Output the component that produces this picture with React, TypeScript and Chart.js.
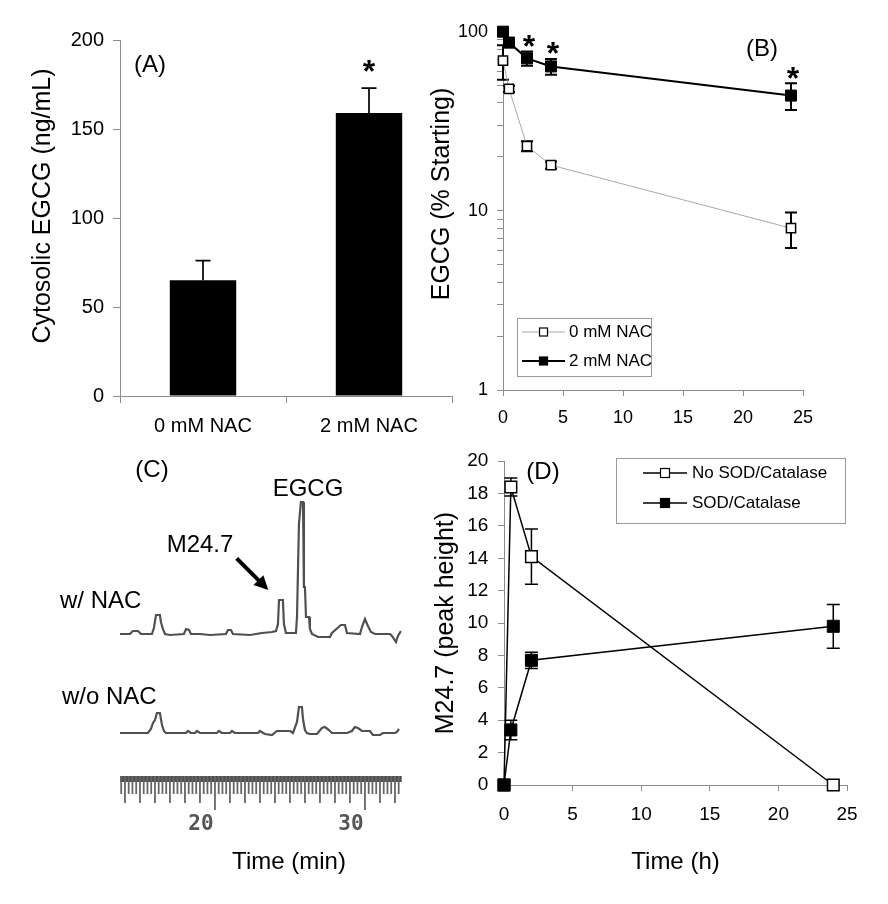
import React, { useEffect, useRef } from 'react';
import { Chart, registerables } from 'chart.js';

Chart.register(...registerables);

const FONT = "'Liberation Sans', Arial, sans-serif";
Chart.defaults.font.family = FONT;
const AXIS = '#8c8c8c';

// ---------- Panel A ----------
const aCategories = ['0 mM NAC', '2 mM NAC'];
const aValues = [65, 159];
const aErrors = [11, 14];
const aStarIndex = [1];
const aYTitle = 'Cytosolic EGCG (ng/mL)';

// ---------- Panel B ----------
const bTimes = [0, 0.5, 2, 4, 24];
const bNoNac = [69, 48, 23, 18, 8];
const bNoNacErr = [15, 2, 1.5, 0.8, 1.8];
const bNac = [100, 87, 71, 64, 44];
const bNacErr = [0, 5, 6.5, 6.5, 7.5];
const bYTicks = [1, 2, 3, 4, 5, 6, 7, 8, 9, 10, 20, 30, 40, 50, 60, 70, 80, 90, 100];
const bYLabels = [1, 10, 100];
const bStarIndex = [2, 3, 4];
const bYTitle = 'EGCG (% Starting)';

// ---------- Panel C (chromatogram traces, signal above baseline) ----------
const cWithTime = [13.67, 14.33, 14.53, 14.87, 15.07, 15.8, 15.93, 16.07, 16.33, 16.4, 16.53, 16.67, 17.0, 17.93, 18.07, 18.27, 18.4, 19.0, 19.67, 20.73, 20.87, 21.07, 21.2, 22.33, 23.13, 23.8, 24.07, 24.2, 24.27, 24.53, 24.6, 24.73, 25.4, 25.47, 25.6, 25.73, 25.87, 25.93, 26.0, 26.07, 26.27, 26.33, 26.47, 26.87, 27.67, 27.8, 28.4, 28.67, 28.8, 29.67, 29.8, 30.0, 30.2, 30.4, 30.67, 31.67, 31.8, 32.07, 32.2, 32.4];
const cWithSignal = [0, 0, 3, 3, 0, 0, 6, 19, 19, 12, 5, 0, -1, 0, 5, 4, 0, 0, -1, 0, 4, 4, 0, -1, 1, 2, 3, 10, 34, 34, 10, 1, 1, 17, 110, 132, 132, 47, 47, 17, 17, 5, 0, -3, -3, 1, 9, 9, 1, 0, 7, 15, 8, 2, 0, 0, -2, -8, -2, 3];
const cWithoutTime = [13.67, 15.53, 15.73, 15.87, 16.0, 16.13, 16.33, 16.47, 16.6, 16.73, 18.07, 18.2, 18.4, 18.67, 18.8, 19.0, 20.13, 20.27, 20.47, 21.0, 21.13, 21.33, 22.87, 23.0, 23.33, 23.8, 24.13, 25.0, 25.2, 25.47, 25.6, 25.8, 25.87, 26.0, 26.13, 26.33, 26.8, 27.13, 27.33, 27.6, 27.8, 28.8, 29.13, 29.33, 29.53, 29.8, 30.33, 30.53, 31.0, 31.2, 32.0, 32.13, 32.27];
const cWithoutSignal = [0, 0, 4, 10, 13, 20, 20, 8, 2, 0, 0, 2, 0, 0, 2, 0, 0, 2, 0, 0, 2, 0, 0, 2, -1, -2, 2, 2, 0, 11, 26, 26, 14, 3, 0, -1, -1, 5, 6, 3, 0, 0, 2, 6, 5, 2, 2, -2, -2, 0, 0, 1, 4];
const cWithBase = 142;
const cWithoutBase = 43;
const cTimeMin = 13.67;
const cTimeMax = 32.45;
const cRulerStep = 0.25;

// ---------- Panel D ----------
const dTimes = [0, 0.5, 2, 24];
const dNoSod = [0, 18.4, 14.1, 0];
const dNoSodErr = [0, 0.55, 1.7, 0];
const dSod = [0, 3.4, 7.7, 9.8];
const dSodErr = [0, 0.6, 0.5, 1.35];

// ---------- helpers ----------
const errorBarPlugin = {
  id: 'errorBars',
  beforeDatasetsDraw(chart: any) {
    const ctx = chart.ctx;
    chart.data.datasets.forEach((ds: any, i: number) => {
      const errs = ds.errors;
      if (!errs) return;
      const meta = chart.getDatasetMeta(i);
      const yScale = chart.scales[meta.yAxisID];
      ctx.save();
      ctx.strokeStyle = '#000';
      ctx.lineWidth = ds.errorWidth || 1.5;
      meta.data.forEach((el: any, j: number) => {
        const e = errs[j];
        if (!e) return;
        const raw = ds.data[j];
        const v = typeof raw === 'number' ? raw : raw.y;
        const x = el.x;
        const yHi = yScale.getPixelForValue(v + e);
        const yLo = yScale.getPixelForValue(ds.errorUpOnly ? v : v - e);
        const cap = (ds.errorCap || 12) / 2;
        ctx.beginPath();
        ctx.moveTo(x, yHi);
        ctx.lineTo(x, yLo);
        ctx.moveTo(x - cap, yHi);
        ctx.lineTo(x + cap, yHi);
        if (!ds.errorUpOnly) {
          ctx.moveTo(x - cap, yLo);
          ctx.lineTo(x + cap, yLo);
        }
        ctx.stroke();
      });
      ctx.restore();
    });
  },
};

function drawText(ctx: CanvasRenderingContext2D, text: string, x: number, y: number, size: number, align: CanvasTextAlign = 'center', font = FONT, color = '#000', bold = false) {
  ctx.save();
  ctx.font = `${bold ? 'bold ' : ''}${size}px ${font}`;
  ctx.fillStyle = color;
  ctx.textAlign = align;
  ctx.textBaseline = 'middle';
  ctx.fillText(text, x, y);
  ctx.restore();
}

function drawVText(ctx: CanvasRenderingContext2D, text: string, x: number, y: number, size: number) {
  ctx.save();
  ctx.translate(x, y);
  ctx.rotate(-Math.PI / 2);
  ctx.font = `${size}px ${FONT}`;
  ctx.fillStyle = '#000';
  ctx.textAlign = 'center';
  ctx.textBaseline = 'middle';
  ctx.fillText(text, 0, 0);
  ctx.restore();
}

function drawStar(ctx: CanvasRenderingContext2D, x: number, cy: number) {
  const size = 32;
  ctx.save();
  ctx.font = `bold ${size}px ${FONT}`;
  ctx.fillStyle = '#000';
  ctx.textAlign = 'center';
  ctx.textBaseline = 'alphabetic';
  ctx.fillText('*', x, cy + 0.58 * size);
  ctx.restore();
}

type LegendItem = { label: string; filled: boolean; lineColor: string; lineWidth: number; y: number };
function drawBoxLegend(ctx: CanvasRenderingContext2D, box: { x: number; y: number; w: number; h: number }, items: LegendItem[], x0: number, x1: number, tx: number, mark: number, fontSize: number) {
  ctx.save();
  ctx.strokeStyle = '#9a9a9a';
  ctx.lineWidth = 1;
  ctx.strokeRect(box.x + 0.5, box.y + 0.5, box.w, box.h);
  items.forEach((it) => {
    ctx.strokeStyle = it.lineColor;
    ctx.lineWidth = it.lineWidth;
    ctx.beginPath();
    ctx.moveTo(x0, it.y);
    ctx.lineTo(x1, it.y);
    ctx.stroke();
    const mx = (x0 + x1) / 2;
    ctx.fillStyle = it.filled ? '#000' : '#fff';
    ctx.fillRect(mx - mark / 2, it.y - mark / 2, mark, mark);
    ctx.strokeStyle = '#000';
    ctx.lineWidth = 1.2;
    ctx.strokeRect(mx - mark / 2, it.y - mark / 2, mark, mark);
    drawText(ctx, it.label, tx, it.y, fontSize, 'left');
  });
  ctx.restore();
}

const baseOptions = {
  animation: false as const,
  responsive: false,
  events: [] as any[],
};

export default function App() {
  const aRef = useRef<HTMLCanvasElement>(null);
  const bRef = useRef<HTMLCanvasElement>(null);
  const cRef = useRef<HTMLCanvasElement>(null);
  const dRef = useRef<HTMLCanvasElement>(null);

  useEffect(() => {
    const charts: Chart[] = [];

    // ---------- A ----------
    const annotA = {
      id: 'annotA',
      afterDraw(chart: any) {
        const ctx = chart.ctx;
        drawText(ctx, '(A)', 150, 65, 24);
        drawVText(ctx, aYTitle, 43, 206, 25);
        const meta = chart.getDatasetMeta(0);
        const y = chart.scales.y;
        aStarIndex.forEach((i) => {
          drawStar(ctx, meta.data[i].x, y.getPixelForValue(aValues[i] + aErrors[i]) - 25);
        });
      },
    };
    charts.push(
      new Chart(aRef.current!, {
        type: 'bar',
        data: {
          labels: aCategories,
          datasets: [
            {
              data: aValues,
              backgroundColor: '#000',
              borderWidth: 0,
              barPercentage: 0.4,
              categoryPercentage: 1,
              errors: aErrors,
              errorUpOnly: true,
              errorCap: 15,
              errorWidth: 1.7,
            } as any,
          ],
        },
        options: {
          ...baseOptions,
          layout: { padding: { top: 40, right: 3, left: 0, bottom: 0 } },
          plugins: { legend: { display: false }, tooltip: { enabled: false } },
          scales: {
            x: {
              afterFit: (s: any) => { s.height = 44; },
              grid: { offset: true, drawOnChartArea: false, tickLength: 7, color: AXIS },
              border: { color: AXIS },
              ticks: { font: { size: 20 }, color: '#000', padding: 11 },
            },
            y: {
              min: 0,
              max: 200,
              afterFit: (s: any) => { s.width = 120; },
              grid: { drawOnChartArea: false, tickLength: 7, color: AXIS },
              border: { color: AXIS },
              ticks: { stepSize: 50, font: { size: 20 }, color: '#000', padding: 9 },
            },
          },
        } as any,
        plugins: [errorBarPlugin, annotA],
      })
    );

    // ---------- B ----------
    const annotB = {
      id: 'annotB',
      afterDraw(chart: any) {
        const ctx = chart.ctx;
        const xs = chart.scales.x;
        const ys = chart.scales.y;
        drawText(ctx, '(B)', 336, 49, 24);
        drawVText(ctx, bYTitle, 15.7, 194, 25);
        bStarIndex.forEach((i) => {
          drawStar(ctx, xs.getPixelForValue(bTimes[i]) + 2, ys.getPixelForValue(bNac[i] + bNacErr[i]) - 13);
        });
        const ds = chart.data.datasets;
        drawBoxLegend(
          ctx,
          { x: 91, y: 318, w: 134, h: 58 },
          [
            { label: ds[1].label, filled: false, lineColor: '#a8a8a8', lineWidth: 1, y: 332 },
            { label: ds[0].label, filled: true, lineColor: '#000', lineWidth: 2, y: 361 },
          ],
          96,
          139,
          143,
          8,
          17
        );
      },
    };
    charts.push(
      new Chart(bRef.current!, {
        type: 'line',
        data: {
          datasets: [
            {
              label: '2 mM NAC',
              data: bTimes.map((t, i) => ({ x: t, y: bNac[i] })),
              borderColor: '#000',
              borderWidth: 2,
              pointStyle: 'rect',
              pointRadius: 7.8,
              pointBackgroundColor: '#000',
              pointBorderColor: '#000',
              pointBorderWidth: 1,
              clip: false,
              order: 0,
              errors: bNacErr,
              errorCap: 12,
              errorWidth: 2,
            } as any,
            {
              label: '0 mM NAC',
              data: bTimes.map((t, i) => ({ x: t, y: bNoNac[i] })),
              borderColor: '#a8a8a8',
              borderWidth: 1,
              pointStyle: 'rect',
              pointRadius: 6.5,
              pointBackgroundColor: '#fff',
              pointBorderColor: '#000',
              pointBorderWidth: 1.5,
              clip: false,
              order: 1,
              errors: bNoNacErr,
              errorCap: 12,
              errorWidth: 2,
            } as any,
          ],
        },
        options: {
          ...baseOptions,
          layout: { padding: { top: 31.7, right: 85, left: 0, bottom: 0 } },
          plugins: { legend: { display: false }, tooltip: { enabled: false } },
          scales: {
            x: {
              type: 'linear',
              min: 0,
              max: 25,
              afterFit: (s: any) => { s.height = 50; },
              grid: { drawOnChartArea: false, tickLength: 6, color: AXIS },
              border: { color: AXIS },
              ticks: { stepSize: 5, font: { size: 18 }, color: '#000', padding: 11 },
            },
            y: {
              type: 'logarithmic',
              min: 1,
              max: 100,
              afterFit: (s: any) => { s.width = 77; },
              afterBuildTicks: (s: any) => { s.ticks = bYTicks.map((v) => ({ value: v, major: bYLabels.includes(v) })); },
              grid: { drawOnChartArea: false, tickLength: 6, color: AXIS },
              border: { color: AXIS },
              ticks: {
                autoSkip: false,
                font: { size: 18 },
                color: '#000',
                padding: 9,
                callback: (v: any) => (bYLabels.includes(Number(v)) ? String(v) : ''),
              },
            },
          },
        } as any,
        plugins: [errorBarPlugin, annotB],
      })
    );

    // ---------- C ----------
    const annotC = {
      id: 'annotC',
      afterDraw(chart: any) {
        const ctx = chart.ctx;
        const xs = chart.scales.x;
        const area = chart.chartArea;
        // ruler
        ctx.save();
        ctx.fillStyle = '#4f4f4f';
        ctx.fillRect(xs.left, area.bottom, xs.right - xs.left, 6);
        ctx.strokeStyle = '#666';
        ctx.lineWidth = 1.8;
        const start = Math.ceil(cTimeMin / cRulerStep) * cRulerStep;
        for (let v = start; v <= cTimeMax + 1e-9; v += cRulerStep) {
          const px = xs.getPixelForValue(v);
          const r = Math.round(v * 100) / 100;
          let len = 18;
          if (Math.abs(r % 10) < 1e-6) len = 34;
          else if (Math.abs(r - Math.round(r)) < 1e-6) len = 27;
          ctx.beginPath();
          ctx.moveTo(px, area.bottom);
          ctx.lineTo(px, area.bottom + len);
          ctx.stroke();
        }
        ctx.restore();
        // labels
        drawText(ctx, '(C)', 152, 30, 24);
        drawText(ctx, 'EGCG', 308, 49.5, 24);
        drawText(ctx, 'M24.7', 200, 105, 24);
        drawText(ctx, 'w/ NAC', 60, 161, 24, 'left');
        drawText(ctx, 'w/o NAC', 62, 257, 24, 'left');
        drawText(ctx, 'Time (min)', 289, 422, 24);
        // arrow
        const x0 = 236.7, y0 = 118.3, x1 = 268.3, y1 = 150;
        const ang = Math.atan2(y1 - y0, x1 - x0);
        const head = 14;
        ctx.save();
        ctx.strokeStyle = '#000';
        ctx.fillStyle = '#000';
        ctx.lineWidth = 4;
        ctx.beginPath();
        ctx.moveTo(x0, y0);
        ctx.lineTo(x1 - head * 0.8 * Math.cos(ang), y1 - head * 0.8 * Math.sin(ang));
        ctx.stroke();
        ctx.beginPath();
        ctx.moveTo(x1, y1);
        ctx.lineTo(x1 - head * Math.cos(ang) + 7 * Math.sin(ang), y1 - head * Math.sin(ang) - 7 * Math.cos(ang));
        ctx.lineTo(x1 - head * Math.cos(ang) - 7 * Math.sin(ang), y1 - head * Math.sin(ang) + 7 * Math.cos(ang));
        ctx.closePath();
        ctx.fill();
        ctx.restore();
      },
    };
    charts.push(
      new Chart(cRef.current!, {
        type: 'line',
        data: {
          datasets: [
            {
              label: 'w/ NAC',
              data: cWithTime.map((t, i) => ({ x: t, y: cWithSignal[i] + cWithBase })),
              borderColor: '#505050',
              borderWidth: 2.2,
              pointRadius: 0,
              tension: 0,
            },
            {
              label: 'w/o NAC',
              data: cWithoutTime.map((t, i) => ({ x: t, y: cWithoutSignal[i] + cWithoutBase })),
              borderColor: '#505050',
              borderWidth: 2.2,
              pointRadius: 0,
              tension: 0,
            },
          ],
        },
        options: {
          ...baseOptions,
          layout: { padding: { top: 50, right: 28.3, left: 120, bottom: 0 } },
          plugins: { legend: { display: false }, tooltip: { enabled: false } },
          scales: {
            x: {
              type: 'linear',
              min: cTimeMin,
              max: cTimeMax,
              afterFit: (s: any) => { s.height = 128; },
              grid: { display: false, drawTicks: false },
              border: { display: false },
              ticks: {
                stepSize: 10,
                includeBounds: false,
                labelOffset: -14,
                padding: 36.4,
                color: '#555',
                font: { family: "'DejaVu Sans Mono', monospace", size: 21, weight: 'bold' },
              },
            },
            y: { display: false, min: 0, max: 286 },
          },
        } as any,
        plugins: [annotC],
      })
    );

    // ---------- D ----------
    const annotD = {
      id: 'annotD',
      afterDraw(chart: any) {
        const ctx = chart.ctx;
        drawText(ctx, '(D)', 117, 32, 24);
        const ds = chart.data.datasets;
        drawBoxLegend(
          ctx,
          { x: 190, y: 18, w: 229, h: 65 },
          [
            { label: ds[1].label, filled: false, lineColor: '#000', lineWidth: 1.5, y: 33 },
            { label: ds[0].label, filled: true, lineColor: '#000', lineWidth: 1.5, y: 63 },
          ],
          217,
          261,
          266,
          9,
          17
        );
      },
    };
    charts.push(
      new Chart(dRef.current!, {
        type: 'line',
        data: {
          datasets: [
            {
              label: 'SOD/Catalase',
              data: dTimes.map((t, i) => ({ x: t, y: dSod[i] })),
              borderColor: '#000',
              borderWidth: 1.5,
              pointStyle: 'rect',
              pointRadius: 8.5,
              pointBackgroundColor: '#000',
              pointBorderColor: '#000',
              pointBorderWidth: 1,
              clip: false,
              order: 0,
              errors: dSodErr,
              errorCap: 13,
              errorWidth: 1.5,
            } as any,
            {
              label: 'No SOD/Catalase',
              data: dTimes.map((t, i) => ({ x: t, y: dNoSod[i] })),
              borderColor: '#000',
              borderWidth: 1.5,
              pointStyle: 'rect',
              pointRadius: 8.2,
              pointBackgroundColor: '#fff',
              pointBorderColor: '#000',
              pointBorderWidth: 1.5,
              clip: false,
              order: 1,
              errors: dNoSodErr,
              errorCap: 13,
              errorWidth: 1.5,
            } as any,
          ],
        },
        options: {
          ...baseOptions,
          layout: { padding: { top: 17, right: 41, left: 0, bottom: 0 } },
          plugins: { legend: { display: false }, tooltip: { enabled: false } },
          scales: {
            x: {
              type: 'linear',
              min: 0,
              max: 25,
              afterFit: (s: any) => { s.height = 119; },
              grid: { drawOnChartArea: false, tickLength: 6, color: AXIS },
              border: { color: AXIS },
              ticks: { stepSize: 5, font: { size: 19 }, color: '#000', padding: 12.6 },
              title: { display: true, text: 'Time (h)', font: { size: 24 }, color: '#000', padding: { top: 0, bottom: 27.6 } },
            },
            y: {
              min: 0,
              max: 20,
              afterFit: (s: any) => { s.width = 78; },
              grid: { drawOnChartArea: false, tickLength: 6, color: AXIS },
              border: { color: AXIS },
              ticks: { stepSize: 2, font: { size: 19 }, color: '#000', padding: 9.7 },
              title: { display: true, text: 'M24.7 (peak height)', font: { size: 25 }, color: '#000', padding: { top: 5.4, bottom: 0 } },
            },
          },
        } as any,
        plugins: [errorBarPlugin, annotD],
      })
    );

    return () => charts.forEach((c) => c.destroy());
  }, []);

  const cs = (left: number, top: number, w: number, h: number): React.CSSProperties => ({
    position: 'absolute',
    left,
    top,
    width: w,
    height: h,
  });

  return (
    <div style={{ position: 'absolute', left: 0, top: 0, width: 888, height: 904, background: '#fff', overflow: 'hidden' }}>
      <canvas ref={aRef} width={455} height={440} style={cs(0, 0, 455, 440)} />
      <canvas ref={bRef} width={462} height={440} style={cs(426, 0, 462, 440)} />
      <canvas ref={cRef} width={430} height={464} style={cs(0, 440, 430, 464)} />
      <canvas ref={dRef} width={462} height={464} style={cs(426, 440, 462, 464)} />
    </div>
  );
}
